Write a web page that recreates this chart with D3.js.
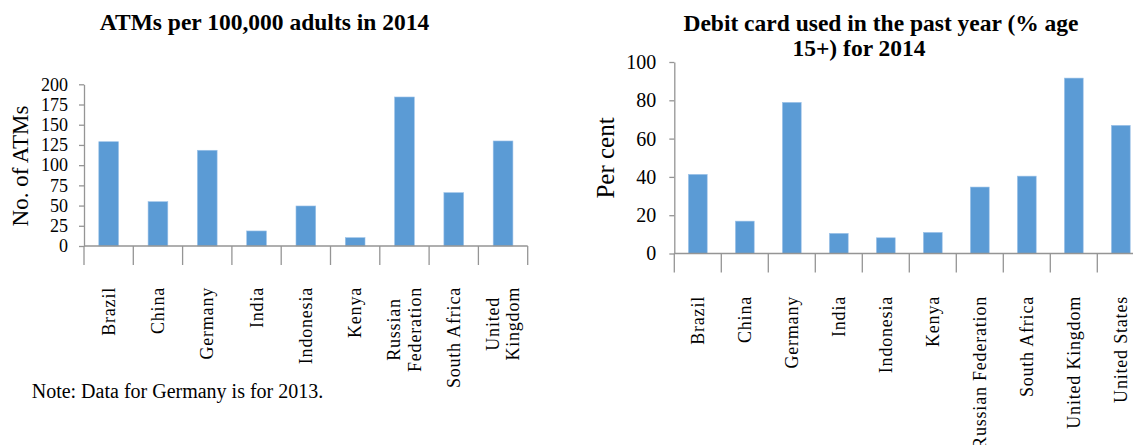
<!DOCTYPE html>
<html>
<head>
<meta charset="utf-8">
<script src="https://cdn.jsdelivr.net/npm/d3@7"></script>
<style>
  body { margin: 0; background: #fff; }
  svg { display: block; font-family: "Liberation Serif", "Times New Roman", serif; }
</style>
</head>
<body>
<svg></svg>
<script>
// data
const atmCountries = ['Brazil', 'China', 'Germany', 'India', 'Indonesia', 'Kenya',
                      'Russian Federation', 'South Africa', 'United Kingdom']
const atmLabels = ['Brazil', 'China', 'Germany', 'India', 'Indonesia', 'Kenya',
                   'Russian\nFederation', 'South Africa', 'United\nKingdom']
const atmValues = [129.0, 54.8, 118.4, 18.6, 49.5, 10.3, 184.3, 66.0, 129.9]
const atmTicks = [0, 25, 50, 75, 100, 125, 150, 175, 200]

const debitCountries = ['Brazil', 'China', 'Germany', 'India', 'Indonesia', 'Kenya',
                        'Russian Federation', 'South Africa', 'United Kingdom', 'United States']
const debitValues = [41.3, 16.9, 78.9, 10.5, 8.2, 11.0, 34.7, 40.4, 91.6, 66.9]
const debitTicks = [0, 20, 40, 60, 80, 100]

const width = 1133
const height = 445
const barColor = '#5b9bd5'
const axisColor = '#959595'

let svg = d3.select('svg')
    .attr('width', width)
    .attr('height', height)

function drawChart(cfg) {
    let xScale = d3.scaleBand()
        .domain(cfg.categories)
        .range([cfg.x0, cfg.x0 + cfg.step * cfg.categories.length])
        .paddingInner(0.6)
        .paddingOuter(0.3)

    let yScale = d3.scaleLinear()
        .domain([0, cfg.max])
        .range([cfg.y0, cfg.yTop])

    let g = svg.append('g')

    // bars
    g.selectAll('rect')
        .data(cfg.values)
        .enter()
        .append('rect')
        .attr('fill', barColor)
        .attr('stroke', '#9cc2e8')
        .attr('stroke-width', 0.6)
        .attr('x', (d, i) => xScale(cfg.categories[i]))
        .attr('y', d => yScale(d))
        .attr('width', xScale.bandwidth())
        .attr('height', d => cfg.y0 - yScale(d))

    // y axis
    let yAxis = d3.axisLeft(yScale)
        .tickValues(cfg.ticks)
        .tickSize(5)
        .tickSizeOuter(0)
        .tickPadding(cfg.tickPad)

    let ya = g.append('g')
        .attr('transform', 'translate(' + cfg.x0 + ',0)')
        .call(yAxis)
    ya.selectAll('path, line').attr('stroke', axisColor).attr('stroke-width', 1.3)
    ya.selectAll('text')
        .attr('font-family', '"Liberation Serif", serif')
        .attr('font-size', cfg.tickFont)
        .attr('fill', '#000')

    // x axis: baseline plus category boundary ticks hanging down
    let bounds = cfg.categories.map(c => xScale(c) - xScale.step() * xScale.paddingOuter())
    bounds.push(cfg.x0 + cfg.step * cfg.categories.length)

    g.append('line')
        .attr('x1', cfg.x0).attr('x2', bounds[bounds.length - 1])
        .attr('y1', cfg.y0).attr('y2', cfg.y0)
        .attr('stroke', axisColor).attr('stroke-width', 1.5)

    g.selectAll('.xtick')
        .data(bounds)
        .enter()
        .append('line')
        .attr('class', 'xtick')
        .attr('x1', d => d).attr('x2', d => d)
        .attr('y1', cfg.y0).attr('y2', cfg.y0 + 19)
        .attr('stroke', axisColor).attr('stroke-width', 1.3)

    // rotated category labels, top end aligned at labelTop
    cfg.labels.forEach((lab, i) => {
        let lines = lab.split('\n')
        let cx = xScale(cfg.categories[i]) + xScale.bandwidth() / 2
        let t = g.append('text')
            .attr('font-size', cfg.labelFont)
            .attr('letter-spacing', cfg.labelSpacing)
            .attr('fill', '#000')
        let tspans = lines.map((ln, k) => t.append('tspan')
            .attr('x', 0)
            .attr('dy', k === 0 ? (-(lines.length - 1) / 2 * cfg.lineGap + cfg.labelFont * 0.33) : cfg.lineGap)
            .text(ln))
        let maxLen = d3.max(tspans, s => s.node().getComputedTextLength())
        t.attr('text-anchor', 'middle')
         .attr('transform', 'translate(' + cx + ',' + (cfg.labelTop + maxLen / 2) + ') rotate(-90)')
    })

    // axis title
    g.append('text')
        .attr('transform', 'translate(' + cfg.titleX + ',' + cfg.titleY + ') rotate(-90)')
        .attr('text-anchor', 'middle')
        .attr('font-size', cfg.titleFont)
        .attr('fill', '#000')
        .text(cfg.yTitle)
}

drawChart({
    categories: atmCountries, labels: atmLabels, values: atmValues, ticks: atmTicks,
    max: 200, x0: 84, step: 49.3, y0: 246, yTop: 84.3,
    tickPad: 11, tickFont: 18, labelFont: 18, labelSpacing: 0.8, lineGap: 21, labelTop: 287,
    yTitle: 'No. of ATMs', titleX: 28, titleY: 166, titleFont: 23
})

drawChart({
    categories: debitCountries, labels: debitCountries, values: debitValues, ticks: debitTicks,
    max: 100, x0: 674.3, step: 47, y0: 253.5, yTop: 62,
    tickPad: 13, tickFont: 20, labelFont: 18, labelSpacing: 0.8, lineGap: 21, labelTop: 296,
    yTitle: 'Per cent', titleX: 614, titleY: 158, titleFont: 25
})

// chart titles
svg.append('text')
    .attr('x', 264.5).attr('y', 30)
    .attr('text-anchor', 'middle')
    .attr('font-weight', 'bold')
    .attr('font-size', 23.5)
    .text('ATMs per 100,000 adults in 2014')

svg.append('text')
    .attr('x', 881).attr('y', 31)
    .attr('text-anchor', 'middle')
    .attr('font-weight', 'bold')
    .attr('font-size', 23.5)
    .text('Debit card used in the past year (% age')

svg.append('text')
    .attr('x', 859).attr('y', 56)
    .attr('text-anchor', 'middle')
    .attr('font-weight', 'bold')
    .attr('font-size', 23.5)
    .text('15+) for 2014')

// footnote
svg.append('text')
    .attr('x', 31.7).attr('y', 398)
    .attr('font-size', 20)
    .text('Note: Data for Germany is for 2013.')
</script>
</body>
</html>
